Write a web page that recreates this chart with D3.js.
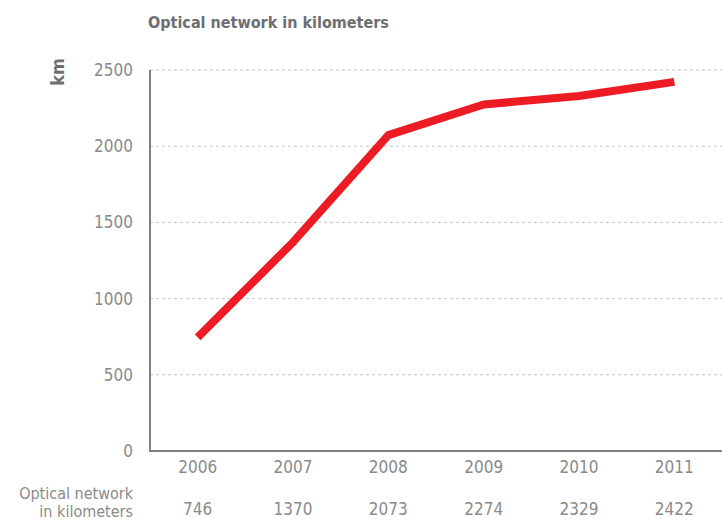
<!DOCTYPE html>
<html>
<head>
<meta charset="utf-8">
<script src="https://cdn.jsdelivr.net/npm/d3@7"></script>
<style>
  body { margin: 0; background: #fff; }
  text { font-family: "Liberation Sans Narrow", "DejaVu Sans Condensed", sans-serif; }
</style>
</head>
<body>
<svg id="chart" width="722" height="522"></svg>
<script>
var years = ["2006", "2007", "2008", "2009", "2010", "2011"];
var kilometers = [746, 1370, 2073, 2274, 2329, 2422];
var yTicks = [0, 500, 1000, 1500, 2000, 2500];

var svg = d3.select("#chart");
var plotLeft = 150, plotRight = 722, plotTop = 70, plotBottom = 451;

var x = d3.scaleBand().domain(years).range([plotLeft, plotRight]);
var y = d3.scaleLinear().domain([0, 2500]).range([plotBottom, plotTop]);

// title
svg.append("text")
  .attr("x", 148).attr("y", 28)
  .attr("font-size", 16).attr("font-weight", "bold")
  .attr("fill", "#6d6e71")
  .text("Optical network in kilometers");

svg.append("text")
  .attr("transform", "translate(64,72) rotate(-90)")
  .attr("text-anchor", "middle")
  .attr("font-size", 18).attr("font-weight", "bold")
  .attr("fill", "#6d6e71")
  .text("km");

// grid
svg.selectAll(".grid")
  .data(yTicks.filter(function(d) { return d > 0; }))
  .enter().append("line")
  .attr("x1", plotLeft).attr("x2", plotRight)
  .attr("y1", function(d) { return y(d); })
  .attr("y2", function(d) { return y(d); })
  .attr("stroke", "#c4c4c4")
  .attr("stroke-dasharray", "3,3");

// y labels
svg.selectAll(".ylab")
  .data(yTicks)
  .enter().append("text")
  .attr("x", 133)
  .attr("y", function(d) { return y(d) + 6; })
  .attr("text-anchor", "end")
  .attr("font-size", 17)
  .attr("fill", "#8a8a8a")
  .text(function(d) { return d; });

// axes lines
svg.append("line")
  .attr("x1", plotLeft).attr("x2", plotLeft)
  .attr("y1", plotTop).attr("y2", plotBottom)
  .attr("stroke", "#808080").attr("stroke-width", 2);
svg.append("line")
  .attr("x1", plotLeft - 1).attr("x2", plotRight)
  .attr("y1", plotBottom).attr("y2", plotBottom)
  .attr("stroke", "#808080").attr("stroke-width", 2);

// x labels
svg.selectAll(".xlab")
  .data(years)
  .enter().append("text")
  .attr("x", function(d) { return x(d) + x.bandwidth() / 2; })
  .attr("y", 473)
  .attr("text-anchor", "middle")
  .attr("font-size", 17)
  .attr("fill", "#8a8a8a")
  .text(function(d) { return d; });

// line
var line = d3.line()
  .x(function(d, i) { return x(years[i]) + x.bandwidth() / 2; })
  .y(function(d) { return y(d); });

svg.append("path")
  .datum(kilometers)
  .attr("d", line)
  .attr("fill", "none")
  .attr("stroke", "#ed1c24")
  .attr("stroke-width", 8)
  .attr("stroke-linejoin", "round");

// table row
svg.append("text")
  .attr("x", 133).attr("y", 499)
  .attr("text-anchor", "end")
  .attr("font-size", 16).attr("fill", "#8a8a8a")
  .text("Optical network");
svg.append("text")
  .attr("x", 133).attr("y", 517)
  .attr("text-anchor", "end")
  .attr("font-size", 16).attr("fill", "#8a8a8a")
  .text("in kilometers");

svg.selectAll(".val")
  .data(kilometers)
  .enter().append("text")
  .attr("x", function(d, i) { return x(years[i]) + x.bandwidth() / 2; })
  .attr("y", 515)
  .attr("text-anchor", "middle")
  .attr("font-size", 17)
  .attr("fill", "#8a8a8a")
  .text(function(d) { return d; });
</script>
</body>
</html>
